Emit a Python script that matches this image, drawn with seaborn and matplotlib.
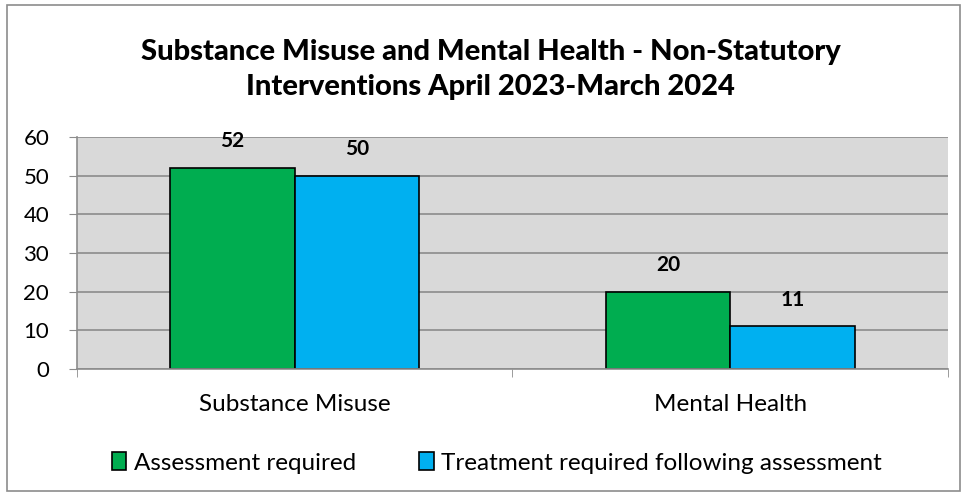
"""Non-statutory interventions bar chart."""

import matplotlib
import pandas as pd
import seaborn as sns

matplotlib.use("Agg")
import matplotlib.pyplot as plt
from matplotlib.patches import Rectangle

categories = ["Substance Misuse", "Mental Health"]
series = ["Assessment required", "Treatment required following assessment"]
assessment = [52, 20]
treatment = [50, 11]
colors = ["#00AD50", "#00B0F0"]

df = pd.DataFrame({
    "category": categories * 2,
    "series": [series[0]] * 2 + [series[1]] * 2,
    "value": assessment + treatment,
})

sns.set_style("white")
plt.rcParams["font.family"] = ["Lato", "DejaVu Sans"]
plt.rcParams["text.color"] = "black"
plt.rcParams["xtick.color"] = "black"
plt.rcParams["ytick.color"] = "black"

fig = plt.figure(figsize=(9.66, 4.95), dpi=100)
ax = fig.add_axes([0.0797, 0.2545, 0.9016, 0.4687])
ax.set_facecolor("#D9D9D9")

sns.barplot(data=df, x="category", y="value", hue="series", palette=colors,
            saturation=1, width=0.572, edgecolor="black", linewidth=1.2,
            ax=ax, legend=True)

for container in ax.containers:
    ax.bar_label(container, fmt="%d", padding=12, fontsize=15, fontweight="bold")

ax.set_xlim(-0.5, 1.5)
ax.set_ylim(0, 60)
ax.set_yticks(range(0, 61, 10))
ax.yaxis.grid(True, color="#8C8C8C", linewidth=1.2)
ax.set_axisbelow(True)
ax.set_xlabel("")
ax.set_ylabel("")
for side in ["top", "right"]:
    ax.spines[side].set_visible(False)
for side in ["left", "bottom"]:
    ax.spines[side].set_color("#8C8C8C")
    ax.spines[side].set_linewidth(1.2)
ax.tick_params(axis="y", labelsize=16, length=6, color="#8C8C8C", left=True, pad=14)
ax.tick_params(axis="x", labelsize=17.5, length=0, pad=18)
ax.set_xticks([-0.5, 0.5, 1.5], minor=True)
ax.tick_params(axis="x", which="minor", length=6, color="#8C8C8C", bottom=True)

ax.set_title("Substance Misuse and Mental Health - Non-Statutory\n"
             "Interventions April 2023-March 2024",
             fontsize=21, fontweight="black", pad=30, linespacing=1.45, x=0.475)

handles, labels = ax.get_legend_handles_labels()
ax.legend(handles, labels, loc="upper center", bbox_to_anchor=(0.482, -0.265),
          ncol=2, frameon=False, fontsize=17.5, handlelength=0.6,
          handleheight=0.75, handletextpad=0.3, columnspacing=2.6)

fig.patches.append(Rectangle((0.007, 0.008), 0.987, 0.982, transform=fig.transFigure,
                             fill=False, edgecolor="#8C8C8C", linewidth=1.2))

fig.savefig("out.png", dpi=100)
plt.close(fig)
